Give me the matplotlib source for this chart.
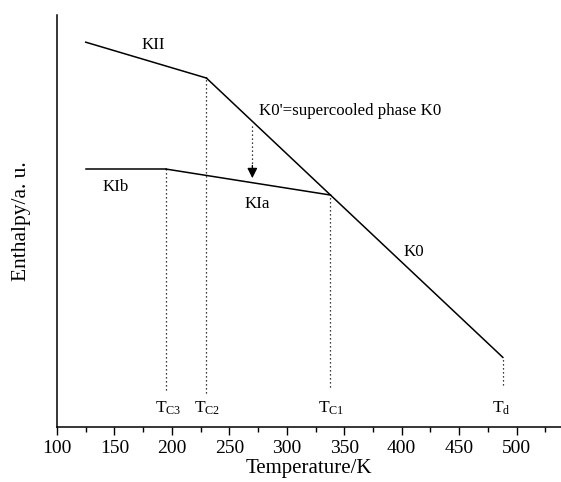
import matplotlib
matplotlib.use("Agg")
import matplotlib.pyplot as plt
from matplotlib.ticker import MultipleLocator

plt.rcParams['font.family'] = ['Liberation Serif', 'DejaVu Serif']
plt.rcParams['mathtext.fontset'] = 'custom'
plt.rcParams['mathtext.rm'] = 'Liberation Serif'
plt.rcParams['mathtext.it'] = 'Liberation Serif:italic'

# Phase lines (temperature K, enthalpy a.u.)
kii_T = [125, 230]
kii_H = [9.34, 8.47]
k0_T = [230, 338, 488]
k0_H = [8.47, 5.63, 1.69]
kib_T = [125, 195]
kib_H = [6.26, 6.26]
kia_T = [195, 338]
kia_H = [6.26, 5.63]

# transition temperatures
trans_T = [195, 230, 338, 488]
trans_Htop = [6.26, 8.47, 5.63, 1.69]
trans_Hbot = [0.9, 0.83, 0.97, 1.02]
trans_labels = [r"T$_{\mathrm{C3}}$", r"T$_{\mathrm{C2}}$", r"T$_{\mathrm{C1}}$", r"T$_{\mathrm{d}}$"]
trans_label_T = [197, 231, 339, 487]

fig = plt.figure(figsize=(5.61, 4.82), dpi=100)
ax = fig.add_axes([0.1016, 0.1141, 0.8984, 0.8548])

lw = 1.1
ax.plot(kii_T, kii_H, color='black', lw=lw)
ax.plot(k0_T, k0_H, color='black', lw=lw)
ax.plot(kib_T, kib_H, color='black', lw=lw)
ax.plot(kia_T, kia_H, color='black', lw=lw)

for t, h1, h0 in zip(trans_T, trans_Htop, trans_Hbot):
    ax.plot([t, t], [h0, h1], color='black', lw=0.9, linestyle=(0, (1, 2.2)))

for t, lab in zip(trans_label_T, trans_labels):
    ax.text(t, 0.46, lab, ha='center', va='center', fontsize=12.5)

# arrow supercooled K0 -> KIa
ax.plot([270, 270], [7.3, 6.3], color='black', lw=0.9, linestyle=(0, (1, 2.2)))
ax.annotate('', xy=(270, 6.04), xytext=(270, 6.35),
            arrowprops=dict(arrowstyle='-|>', color='black', lw=0.9,
                            mutation_scale=15, shrinkA=0, shrinkB=0))

fs = 12.2
ax.text(183.5, 9.27, "KII", ha='center', va='center', fontsize=fs)
ax.text(276, 7.67, "K0'=supercooled phase K0", ha='left', va='center', fontsize=fs)
ax.text(151, 5.83, "KIb", ha='center', va='center', fontsize=fs)
ax.text(274, 5.41, "KIa", ha='center', va='center', fontsize=fs)
ax.text(410.7, 4.25, "K0", ha='center', va='center', fontsize=fs)

ax.set_xlim(100, 538.6)
ax.set_ylim(0, 10)
ax.xaxis.set_major_locator(MultipleLocator(50))
ax.xaxis.set_minor_locator(MultipleLocator(25))
ax.tick_params(axis='x', which='major', direction='out', length=6, width=1, labelsize=14, pad=3)
ax.tick_params(axis='x', which='minor', direction='out', length=3.5, width=1)
ax.set_yticks([])
for s in ['top', 'right']:
    ax.spines[s].set_visible(False)
for s in ['left', 'bottom']:
    ax.spines[s].set_linewidth(1.1)

ax.set_xlabel("Temperature/K", fontsize=15, labelpad=2)
ax.set_ylabel("Enthalpy/a. u.", fontsize=15.5, labelpad=19)

fig.savefig("out.png", dpi=100)
